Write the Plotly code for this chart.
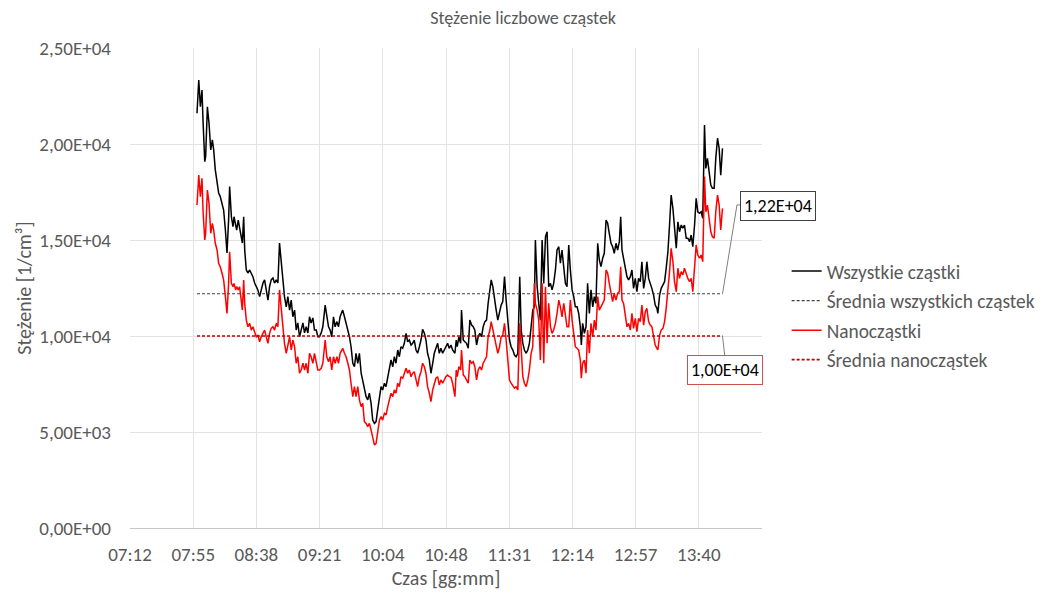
import plotly.graph_objects as go

# ---- data (time in minutes after midnight, concentration in 1/cm3) ----
czas_min = [
    477.8, 479.0, 480.1, 481.2, 481.9, 483.1, 483.7, 484.9, 486.0, 487.2, 488.3, 489.2, 490.3, 491.5, 492.6, 493.7,
    494.9, 496.0, 497.2, 498.3, 499.4, 500.1, 501.3, 502.4, 503.1, 504.2, 504.9, 506.0, 506.9, 508.1, 508.8, 509.7,
    510.4, 511.5, 512.6, 513.8, 514.9, 516.0, 517.2, 518.3, 519.4, 520.6, 521.7, 522.9, 524.0, 525.1, 526.3, 527.4,
    528.5, 529.7, 530.8, 532.0, 533.1,
    534.2, 535.4, 536.5, 537.6, 538.8, 539.9, 541.1, 542.2, 543.3, 544.5, 545.6, 546.7, 547.9, 549.0, 550.2, 551.3,
    552.4, 553.6, 554.7, 555.8, 557.0, 558.1, 559.3, 560.4, 561.5, 562.7, 563.8,
    565.4, 566.5, 567.7, 568.8, 569.9, 571.1, 572.2, 573.4, 574.5, 575.6,
    577.4, 578.6, 579.7, 580.9, 582.0, 583.1, 584.3, 585.4, 586.5, 587.7, 588.8, 590.0, 591.1,
    592.2, 593.4, 594.5, 595.6, 596.8, 597.9, 599.1, 600.2, 601.3, 602.5, 603.6, 604.7, 605.9, 607.0, 608.2, 609.3,
    610.4, 611.6, 612.7, 613.8, 615.0, 616.1, 617.2, 618.4, 619.5, 620.7, 621.8, 622.9, 624.1, 625.2, 626.3, 627.5,
    628.6, 629.8, 630.9, 632.0, 633.2, 634.3, 635.4, 636.6, 637.7, 638.9, 640.0, 641.1, 642.3, 643.4, 644.5, 645.7,
    646.8, 647.9, 649.1, 650.2, 651.4, 652.5,
    654.1, 655.0, 655.7, 656.8, 658.0, 658.6, 659.8, 660.9, 662.0, 663.2, 664.3, 665.5, 666.6, 667.7, 668.9, 670.0,
    671.1, 672.3, 673.4, 674.6, 675.7, 676.8, 678.0,
    678.9, 680.0, 681.2, 682.3, 683.4, 684.6, 685.7, 686.8, 688.0, 689.1, 690.3, 691.4, 692.5, 693.7, 694.8, 695.9, 697.1,
    698.4, 699.4, 700.5, 701.6, 702.8, 703.9, 705.0, 706.2, 707.3, 708.4,
    709.1, 710.3, 711.4, 712.5, 713.7,
    714.8, 716.0, 717.1, 718.2, 719.4, 720.5, 721.6, 722.8, 723.9, 725.1, 726.2, 727.3, 728.5, 729.6, 730.7, 731.9,
    733.0, 734.2, 735.3, 736.4, 737.6, 738.7, 739.8, 740.5, 741.4, 742.6, 743.7, 744.8, 746.0, 747.1, 748.3, 749.4,
    750.5, 751.7, 752.8, 753.9, 755.1, 756.2, 757.4, 758.5, 759.6, 760.8, 761.9, 763.0, 764.2, 765.3, 766.5, 767.4,
    768.3, 769.4, 770.6, 771.7, 772.8, 774.0, 775.1,
    776.2, 777.4, 778.5, 779.6, 780.8, 781.9, 783.1, 784.2, 785.3, 786.5, 787.6, 788.7, 789.9, 791.0, 792.2, 792.8,
    794.0, 795.1, 796.3, 797.4, 798.5, 799.7, 800.8, 801.9, 803.1, 804.2, 805.4, 806.5, 807.6, 808.8, 809.9, 811.0,
    812.2, 813.3, 814.5, 815.6, 816.7, 817.9, 819.0, 820.1, 821.3, 822.4, 823.5, 824.7, 825.6, 826.7, 827.9, 829.0,
    830.1, 831.3, 832.4, 833.6, 834.7, 835.8, 837.0,
]

wszystkie_czastki = [
    21600, 23330, 21940, 22810, 21250, 19080, 19340, 21940, 21090, 19690, 20210, 19690, 18650, 17970, 17450, 17260,
    16910, 16560, 15520, 14320, 16040, 17780, 16210, 15690, 16210, 15880, 15520, 16040, 15690, 15170, 14840, 16210,
    14480, 13440, 13280, 13440, 13280, 13090, 12760, 12570, 12400, 12050, 12400, 12760, 12920, 12400, 11870, 12570,
    12920, 13020, 12760, 12920, 12760,
    14840, 13790, 12920, 12050, 11520, 12050, 11350, 11870, 11000, 11350, 10310, 10680, 9960, 10310, 10680, 10160,
    10480, 10160, 11000, 10680, 10940, 10310, 10310, 9960, 9960, 10160, 10480,
    11610, 10920, 10480, 10310, 9960, 11000, 10480, 10750, 10480, 11000,
    11350, 11000, 10660, 10310, 9960, 9440, 8580, 8400, 9100, 8580, 9100, 8060, 7710,
    7360, 6840, 6670, 7020, 6490, 5620, 5450, 5540, 6150, 6840, 7360, 7190, 7540, 7360, 7880, 8230,
    8750, 8400, 8920, 8580, 9270, 8920, 9440, 9360, 9620, 10140, 9700, 9790, 9530, 9620, 9790, 9270,
    9100, 9440, 9790, 10350, 10140, 9790, 9100, 8750, 8060, 8580, 9100, 9360, 9620, 9100, 9360, 9100,
    9270, 9440, 9620, 9360, 9530, 9270,
    9100, 9790, 9440, 9960, 9620, 11350, 9790, 9700, 9620, 9360, 10830, 10570, 10480, 10310, 9530, 9960,
    10140, 9960, 10480, 10750, 10830, 11700, 12400,
    12920, 12570, 12050, 11350, 10830, 11350, 11610, 11790, 13090, 11870, 10660, 9790, 9440, 9270, 9010, 8920, 9100,
    13090, 10310, 9620, 9270, 9100, 9270, 9620, 10480, 11350, 11530,
    15000, 12570, 11700, 10830, 15000,
    12740, 15170, 15430, 12570, 12740, 12400, 12740, 13440, 14480, 14650, 13790, 14480, 13440, 12740, 12570, 14740,
    13440, 12400, 12050, 11520, 11520, 11180, 10480, 9530, 10660, 10140, 10480, 12740, 11180, 12400, 11520, 12050,
    11700, 14830, 13960, 13610, 14050, 14310, 16040, 15870, 15350, 14830, 14650, 14310, 14830, 14480, 14910, 16210,
    14480, 13960, 13610, 13090, 12920, 13090, 13440,
    12480, 13000, 12310, 13000, 12830, 13870, 12480, 13000, 13870, 13000, 12660, 12480, 12130, 11610, 11440, 11180,
    12130, 12480, 12660, 12830, 13530, 14400, 15780, 17340, 16650, 15430, 14570, 15950, 15430, 15780, 15610, 15780,
    15090, 15090, 14910, 15260, 14650, 15780, 17170, 16470, 16390, 16470, 16130, 20990, 18730, 19250, 18560, 17860,
    17690, 17690, 19250, 20300, 19770, 18380, 19770,
]

nanoczastki = [
    16820, 18380, 17260, 18210, 16560, 15000, 15350, 17600, 16910, 15350, 15870, 15520, 14830, 14480, 13790, 13610,
    13270, 12920, 12050, 11180, 12740, 14390, 12740, 12570, 12740, 12400, 12570, 12400, 12570, 11870, 11350, 12920,
    11700, 10830, 10480, 10660, 10310, 10480, 10140, 9960, 10050, 9700, 9960, 10140, 10310, 9960, 9620, 10140,
    10400, 10480, 10310, 10660, 10480,
    12400, 11350, 10480, 9620, 9100, 9620, 9960, 9270, 9790, 9440, 8580, 8920, 8060, 8230, 8580, 8230,
    8580, 8060, 9100, 8920, 8580, 9100, 8580, 8230, 8230, 8320, 8580,
    9790, 8920, 8660, 8920, 8230, 8920, 8580, 8920, 8580, 9100,
    9360, 9100, 8920, 8580, 8230, 7540, 6840, 7360, 6840, 7360, 6670, 6320, 6490,
    5540, 5450, 5280, 5450, 5100, 4760, 4320, 4410, 4930, 5620, 5800, 5620, 5970, 5890, 6320, 6670,
    7020, 6840, 7190, 7020, 7540, 7360, 7880, 7800, 8060, 8320, 8060, 8230, 7880, 8060, 8140, 7630,
    7360, 7880, 8140, 8580, 8400, 8060, 7360, 7020, 6580, 7190, 7540, 7800, 7880, 7450, 7710, 7540,
    7710, 7880, 7970, 7880, 7850, 7540,
    6840, 8230, 7880, 8400, 8230, 9270, 7970, 7880, 7710, 7540, 8750, 8580, 8660, 8400, 7710, 8230,
    8400, 8230, 8580, 8750, 8920, 9960, 10310,
    10750, 10310, 9790, 9440, 9100, 9440, 9960, 10050, 10660, 9790, 8750, 7710, 7540, 7360, 7280, 7360, 7190,
    10660, 8920, 7880, 7540, 7360, 7710, 8230, 9100, 9440, 12740,
    11700, 11350, 10830, 8750, 12740,
    8580, 12570, 9620, 11700, 10480, 10140, 10310, 10660, 11180, 11870, 11520, 11000, 11700, 11000, 10480, 10480,
    11870, 10830, 9960, 9440, 9360, 9270, 8750, 7800, 8580, 8750, 8060, 10310, 9100, 10660, 9960, 10830,
    10310, 12050, 11350, 11520, 11700, 11870, 13440, 13270, 12740, 12220, 11790, 12220, 11870, 12220, 12310, 13610,
    11870, 11700, 11000, 10480, 10660, 10310, 11180,
    10400, 10920, 10220, 10920, 10750, 11610, 10570, 11260, 11440, 10750, 10570, 10490, 10050, 9530, 9360, 9270,
    10050, 10310, 10400, 10750, 11440, 12310, 13350, 14570, 13870, 12830, 12310, 13530, 13000, 13350, 13180, 13530,
    13180, 13000, 12830, 13000, 12310, 13700, 14740, 14220, 14050, 14220, 13870, 18300, 16470, 16820, 15950, 15430,
    15170, 15090, 16470, 17340, 16820, 15520, 16650,
]

srednia_wszystkich = 12200
srednia_nano = 10000
srednia_wszystkich_label = "1,22E+04"
srednia_nano_label = "1,00E+04"

x_tick_labels = ["07:12", "07:55", "08:38", "09:21", "10:04", "10:48", "11:31", "12:14", "12:57", "13:40"]
y_tick_vals = [0, 5000, 10000, 15000, 20000, 25000]
y_tick_labels = ["0,00E+00", "5,00E+03", "1,00E+04", "1,50E+04", "2,00E+04", "2,50E+04"]

# axis: 0.30 day (07:12) .. 0.60 day (14:24), ticks every 0.03 day
X_MIN, X_MAX = 0.30 * 1440, 0.60 * 1440
x_tick_vals = [X_MIN + 0.03 * 1440 * i for i in range(len(x_tick_labels))]
Y_MIN, Y_MAX = 0, 25000

FONT = "Carlito, Lato, 'Open Sans', sans-serif"
GREY_TXT = "#595959"

fig = go.Figure()
fig.add_trace(go.Scatter(
    x=czas_min, y=wszystkie_czastki, mode="lines", name="Wszystkie cząstki",
    line=dict(color="#000000", width=1.5), legendgroup="g1"))
fig.add_trace(go.Scatter(
    x=[czas_min[0], czas_min[-1]], y=[srednia_wszystkich, srednia_wszystkich], mode="lines",
    name="Średnia wszystkich cząstek",
    line=dict(color="#404040", width=1.1, dash="3px,2px"), legendgroup="g2"))
fig.add_trace(go.Scatter(
    x=czas_min, y=nanoczastki, mode="lines", name="Nanocząstki",
    line=dict(color="#ff0000", width=1.5), legendgroup="g3"))
fig.add_trace(go.Scatter(
    x=[czas_min[0], czas_min[-1]], y=[srednia_nano, srednia_nano], mode="lines",
    name="Średnia nanocząstek",
    line=dict(color="#c00000", width=1.6, dash="3px,2px"), legendgroup="g4"))


def px(t):
    return (t - X_MIN) / (X_MAX - X_MIN)


def py(v):
    return (v - Y_MIN) / (Y_MAX - Y_MIN)


# data-label leader lines (paper coordinates, starting from the end of each mean line)
x_end = px(czas_min[-1])
shapes = [
    dict(type="path", xref="paper", yref="paper",
         path=f"M {x_end},{py(srednia_wszystkich)} L 0.9604,0.673 L 0.9668,0.673",
         line=dict(color="#7f7f7f", width=1)),
    dict(type="line", xref="paper", yref="paper",
         x0=x_end, y0=py(srednia_nano), x1=0.9415, y1=0.354,
         line=dict(color="#7f7f7f", width=1)),
]

annotations = [
    dict(text=srednia_wszystkich_label, xref="paper", yref="paper", x=1.0253, y=0.6708,
         xanchor="center", yanchor="middle",
         showarrow=False, font=dict(family=FONT, size=18, color="#000000"),
         bgcolor="#ffffff", bordercolor="#404040", borderwidth=1, borderpad=3),
    dict(text=srednia_nano_label, xref="paper", yref="paper", x=0.9407, y=0.329,
         xanchor="center", yanchor="middle",
         showarrow=False, font=dict(family=FONT, size=18, color="#000000"),
         bgcolor="#ffffff", bordercolor="#d05050", borderwidth=1, borderpad=3),
]

fig.update_layout(
    width=1047, height=593,
    margin=dict(l=122, r=293, t=40, b=73, autoexpand=False),
    paper_bgcolor="#ffffff", plot_bgcolor="#ffffff",
    font=dict(family=FONT, color=GREY_TXT, size=19),
    title=dict(text="Stężenie liczbowe cząstek", x=0.622, xref="paper", xanchor="center",
               y=0.983, yref="container", yanchor="middle",
               font=dict(family=FONT, size=18, color=GREY_TXT)),
    showlegend=True,
    legend=dict(x=1.039, y=0.575, xanchor="left", yanchor="top",
                font=dict(family=FONT, size=19.4, color=GREY_TXT),
                traceorder="grouped", tracegroupgap=1.3,
                bgcolor="rgba(0,0,0,0)", itemwidth=30),
    shapes=shapes, annotations=annotations,
    xaxis=dict(range=[X_MIN, X_MAX], tickvals=x_tick_vals, ticktext=x_tick_labels,
               showgrid=True, gridcolor="#e3e3e3", gridwidth=1, zeroline=False,
               showline=True, linecolor="#c8c8c8", linewidth=1, ticks="",
               ticklabelstandoff=9,
               tickfont=dict(family=FONT, size=19, color=GREY_TXT),
               title=dict(text="Czas [gg:mm]", font=dict(family=FONT, size=20, color=GREY_TXT), standoff=4)),
    yaxis=dict(range=[Y_MIN, Y_MAX], tickvals=y_tick_vals, ticktext=y_tick_labels,
               showgrid=True, gridcolor="#e3e3e3", gridwidth=1, zeroline=False,
               showline=False, ticks="",
               ticklabelstandoff=18,
               tickfont=dict(family=FONT, size=19, color=GREY_TXT),
               title=dict(text="Stężenie [1/cm³]", font=dict(family=FONT, size=20, color=GREY_TXT), standoff=2)),
)

fig.write_html("out.html")
